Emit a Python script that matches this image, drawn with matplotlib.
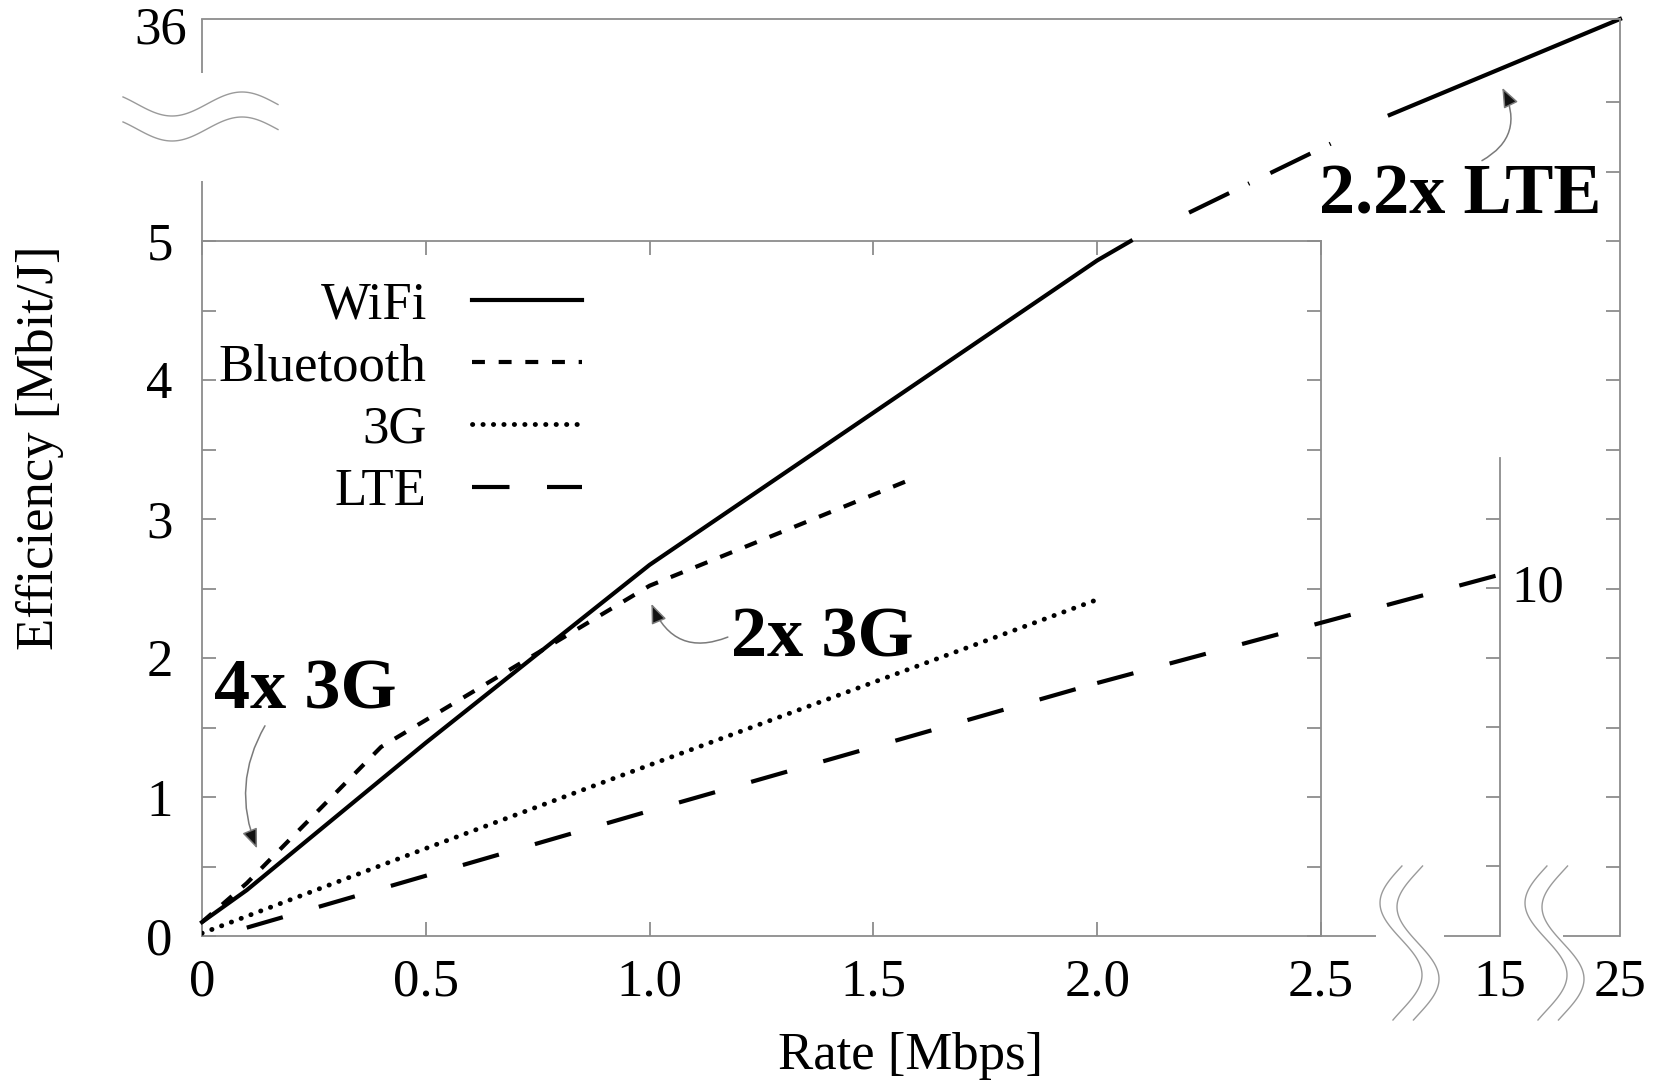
import numpy as np
import matplotlib
matplotlib.use('Agg')
import matplotlib.pyplot as plt
from matplotlib.markers import TICKLEFT
from matplotlib.patches import ConnectionPatch
from matplotlib.transforms import blended_transform_factory as blend

plt.rcParams['font.family'] = ['Liberation Serif', 'DejaVu Serif']

# --- data (rate in Mbps, efficiency in Mbit/J) ---
wifi_rate = [0, 0.1, 0.5, 1.0, 2.0, 2.075, 7.3, 25]
wifi_eff = [0.1, 0.33, 1.39, 2.67, 4.86, 5.0, 22.6, 36]
bt_rate = [0, 0.1, 0.4, 1.0, 1.58]
bt_eff = [0.1, 0.38, 1.36, 2.52, 3.28]
g3_rate = [0, 0.5, 1.0, 2.0]
g3_eff = [0.02, 0.63, 1.23, 2.42]
lte_rate = [0.1, 1.0, 2.0, 15]
lte_eff = [0.06, 0.9, 1.82, 10.4]   # last point read on the axis at 15 Mbps

labels = ['WiFi', 'Bluetooth', '3G', 'LTE']
x_ticks = [0, 0.5, 1.0, 1.5, 2.0, 2.5]
x_ticklabels = ['0', '0.5', '1.0', '1.5', '2.0', '2.5']
y_ticks = [0, 1, 2, 3, 4, 5]
y_minor = [0.5, 1.5, 2.5, 3.5, 4.5]
far_ticks = [15, 25]
right_ticks = [2, 4, 6, 8, 10, 12]
outer_ticks = [0.5, 1, 1.5, 2, 2.5, 3, 3.5, 4, 4.5, 5, 5.5, 6]

# broken axes: real value -> drawn position
X_REAL = [0, 2.5, 15, 25]
X_VIRT = [0, 2.5, 2.9, 3.168]
Y_REAL = [0, 5, 36]
Y_VIRT = [0, 5, 6.597]
RIGHT_PER_MAIN = 4   # right-hand axis units per main unit

W, H = 1671, 1083
L, R, B, T = 202, 1620, 936, 19      # outer frame, pixels
IR, IT = 1321, 241                   # inner frame right / top
GRAY = '#8c8c8c'
FS = 38

fig = plt.figure(figsize=(W / 100, H / 100), dpi=100)


def rect(l, r, b, t):
    return [l / W, 1 - b / H, (r - l) / W, (b - t) / H]


def frac(xp, yp):
    return (np.asarray(xp) - L) / (R - L), (B - np.asarray(yp)) / (B - T)


# inner (unbroken) panel: frame and ticks
ax_in = fig.add_axes(rect(L, IR, B, IT))
ax_in.set_xlim(0, 2.5)
ax_in.set_ylim(0, 5)
ax_in.set_xticks(x_ticks, x_ticklabels)
ax_in.set_yticks(y_ticks)
ax_in.set_yticks(y_minor, minor=True)
ax_in.tick_params(which='both', direction='in', length=10, width=1.3, color=GRAY,
                  top=True, right=True, labelsize=FS)
ax_in.tick_params(axis='x', pad=16)
ax_in.tick_params(axis='y', pad=21)
for s in ax_in.spines.values():
    s.set_color(GRAY)
    s.set_linewidth(1.3)

# whole area with broken scales
ax = fig.add_axes(rect(L, R, B, T))
ax.patch.set_visible(False)
ax.set_xscale('function', functions=(lambda v: np.interp(v, X_REAL, X_VIRT),
                                     lambda v: np.interp(v, X_VIRT, X_REAL)))
ax.set_yscale('function', functions=(lambda v: np.interp(v, Y_REAL, Y_VIRT),
                                     lambda v: np.interp(v, Y_VIRT, Y_REAL)))
ax.set_xlim(0, 25)
ax.set_ylim(0, 36)
ax.set_xticks(far_ticks, [str(t) for t in far_ticks])
ax.set_yticks([])
ax.tick_params(axis='x', length=0, pad=16, labelsize=FS)
ax.spines['left'].set_visible(False)
ax.spines['bottom'].set_visible(False)
for k in ('top', 'right'):
    ax.spines[k].set_color(GRAY)
    ax.spines[k].set_linewidth(1.3)

# right-hand panel (axis at 15 Mbps has its own efficiency scale)
ax_r = fig.add_axes(rect(L, R, B, T), sharex=ax)
ax_r.set_ylim(0, RIGHT_PER_MAIN * Y_VIRT[-1])
ax_r.patch.set_visible(False)
ax_r.axis('off')

lw = 3
l_wifi, = ax.plot(wifi_rate[:6], wifi_eff[:6], color='black', lw=lw, clip_on=False)
ax.plot(wifi_rate[6:], wifi_eff[6:], color='black', lw=lw, clip_on=False)


def along(p, q, t):
    a = ax.transData.transform(p)
    b = ax.transData.transform(q)
    return ax.transData.inverted().transform(a + t * (b - a))


pa = along((wifi_rate[5], wifi_eff[5]), (wifi_rate[6], wifi_eff[6]), 0.225)
pb = along((wifi_rate[5], wifi_eff[5]), (wifi_rate[6], wifi_eff[6]), 0.79)
ax.plot([pa[0], pb[0]], [pa[1], pb[1]], color='black', lw=lw,
        dashes=(10.7, 5.1, 0.3, 5.6), clip_on=False)

l_bt, = ax.plot(bt_rate, bt_eff, color='black', lw=lw, dashes=(3.1, 3.3))
l_3g, = ax.plot(g3_rate, g3_eff, color='black', lw=3.5, dashes=(0.05, 2.1),
                dash_capstyle='round')
l_lte, = ax.plot(lte_rate[:-1], lte_eff[:-1], color='black', lw=lw, dashes=(9, 9))
con = ConnectionPatch(xyA=(lte_rate[-2], lte_eff[-2]), coordsA=ax.transData,
                      xyB=(lte_rate[-1], lte_eff[-1]), coordsB=ax_r.transData,
                      color='black', lw=lw, linestyle=(0, (9, 9)), capstyle='butt')
fig.add_artist(con)

# frame pieces and extra axes
def frame(xp, yp):
    fx, fy = frac(xp, yp)
    ax.plot(fx, fy, transform=ax.transAxes, color=GRAY, lw=1.3, clip_on=False,
            solid_capstyle='butt')


frame([L, L], [IT, 181])
frame([L, L], [T, 73])
frame([IR, 1376], [B, B])
frame([1444, 1500], [B, B])
frame([1563, R], [B, B])
ax.plot([15, 15], [0, frac(0, 458)[1]], transform=blend(ax.transData, ax.transAxes),
        color=GRAY, lw=1.3, clip_on=False)
ax.plot([1] * len(outer_ticks), outer_ticks, transform=blend(ax.transAxes, ax_in.transData),
        ls='none', marker=TICKLEFT, ms=10, mew=1.3, color=GRAY, clip_on=False)
ax_r.plot([15] * len(right_ticks), right_ticks, ls='none', marker=TICKLEFT, ms=10,
          mew=1.3, color=GRAY, clip_on=False)
ax_r.annotate('10', xy=(15, 10), xytext=(8, 0), textcoords='offset points',
              ha='left', va='center', fontsize=FS)
ax.annotate('36', xy=(0, 36), xytext=(-11, -8), textcoords='offset points',
            ha='right', va='center', fontsize=FS, annotation_clip=False)

# break marks
xs = np.linspace(123, 278, 80)
for dy in (0, 25):
    fx, fy = frac(xs, 104 + dy + 12 * np.cos(2 * np.pi * (xs - 172) / 140))
    ax.plot(fx, fy, transform=ax.transAxes, color='#9a9a9a', lw=1.0, clip_on=False)
ys = np.linspace(866, 1020, 80)
for xc in (1401, 1546):
    for dx, dy in ((0, 0), (17, 4)):
        fx, fy = frac(xc + dx - 21 * np.cos(2 * np.pi * (ys - dy - 903) / 144), ys)
        ax.plot(fx, fy, transform=ax.transAxes, color='#9a9a9a', lw=1.0, clip_on=False)

# legend
ax_in.legend([l_wifi, l_bt, l_3g, l_lte], labels, loc='upper right',
             bbox_to_anchor=(0.340, 0.942), markerfirst=False, frameon=False,
             alignment='right', borderpad=0, borderaxespad=0, handlelength=2.1,
             handletextpad=0.85, labelspacing=0.27, fontsize=FS)

# annotations
arrow = dict(arrowstyle='-|>,head_length=0.6,head_width=0.24', mutation_scale=20,
             fc='#111111', ec='#7a7a7a', lw=1.1, shrinkA=0, shrinkB=0)
bold = dict(fontsize=52, fontweight='bold', ha='center', va='baseline')
ax.annotate('4x 3G', xy=(0.123, 0.63), xytext=(0.23, 1.64),
            arrowprops=dict(arrow, connectionstyle='arc3,rad=0.25', relpos=(0.29, 0)), **bold)
ax.annotate('2x 3G', xy=(1.004, 2.39), xytext=(1.385, 2.014),
            arrowprops=dict(arrow, connectionstyle='arc3,rad=-0.5', relpos=(0, 0.54)), **bold)
ax.annotate('2.2x LTE', xy=(0.917, 0.925), xycoords='axes fraction',
            xytext=(0.887, 0.788), textcoords='axes fraction',
            arrowprops=dict(arrow, connectionstyle='arc3,rad=0.5', relpos=(0.56, 1)), **bold)

fig.text(40 / W, 1 - 448 / H, 'Efficiency [Mbit/J]', rotation=90, ha='center',
         va='center', fontsize=FS)
fig.text(911 / W, 1 - 1069 / H, 'Rate [Mbps]', ha='center', va='baseline', fontsize=FS)

fig.savefig('out.png', dpi=100)
